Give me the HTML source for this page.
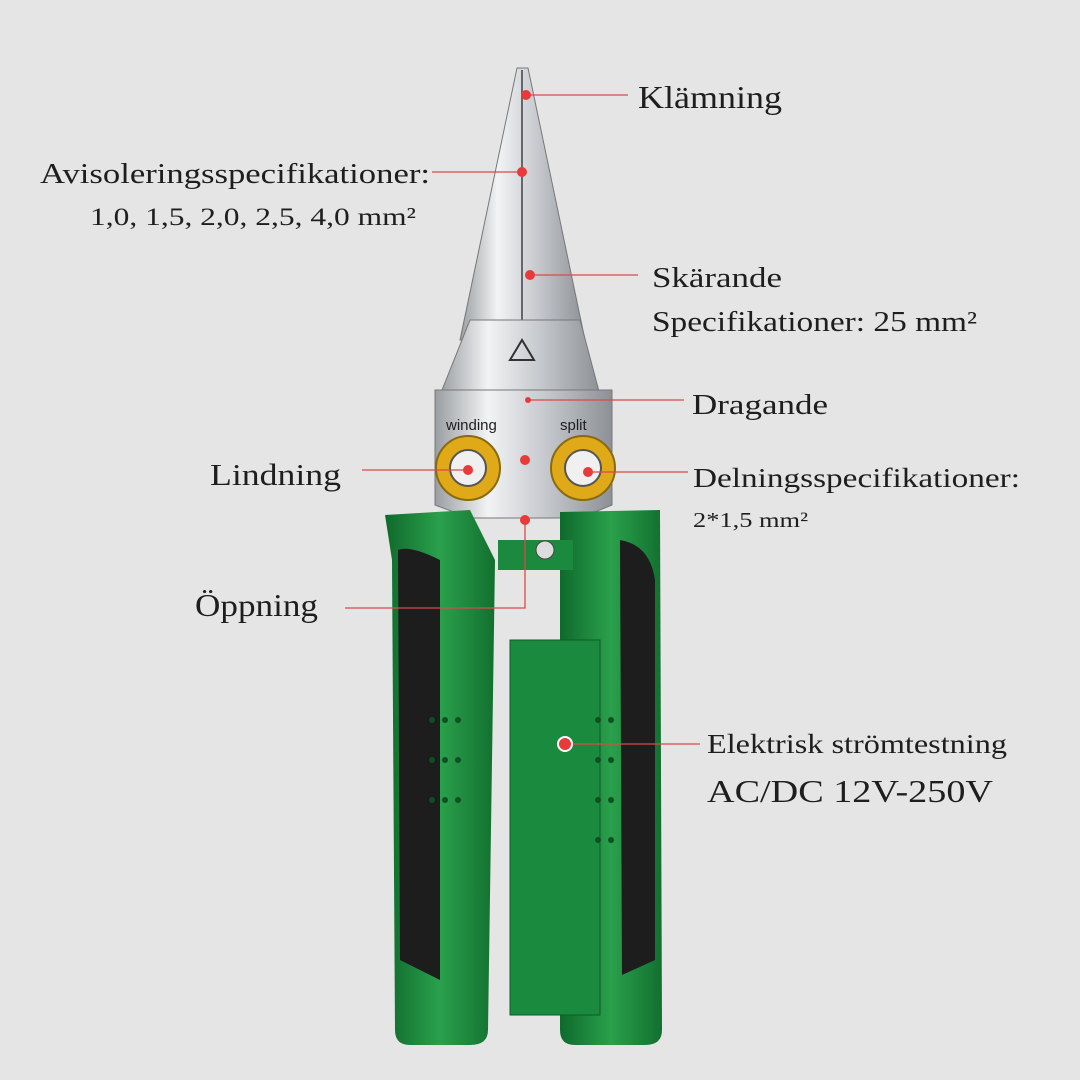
<!DOCTYPE html>
<html><head><meta charset="utf-8"><style>
html,body{margin:0;padding:0;background:#e5e5e5;}
svg{display:block}
text{font-family:"Liberation Serif",serif;fill:#1e1e1e}
</style></head><body>
<svg width="1080" height="1080" viewBox="0 0 1080 1080" xmlns="http://www.w3.org/2000/svg">
<defs>
<linearGradient id="steel" x1="0" x2="1">
<stop offset="0" stop-color="#9a9ea2"/><stop offset="0.3" stop-color="#f2f3f4"/><stop offset="0.6" stop-color="#c9ccd0"/><stop offset="1" stop-color="#8d9196"/>
</linearGradient>
<linearGradient id="green" x1="0" x2="1">
<stop offset="0" stop-color="#0f6a2c"/><stop offset="0.5" stop-color="#2aa04c"/><stop offset="1" stop-color="#12702f"/>
</linearGradient>
</defs>
<rect width="1080" height="1080" fill="#e5e5e5"/>
<path d="M517,68 L528,68 L585,340 L460,340 Z" fill="url(#steel)" stroke="#777" stroke-width="1"/>
<path d="M522,70 L522,340" stroke="#666" stroke-width="2"/>
<path d="M470,320 L580,320 L600,395 L440,395 Z" fill="url(#steel)" stroke="#777"/>
<path d="M435,390 L612,390 L612,505 L580,518 L470,518 L435,505 Z" fill="url(#steel)" stroke="#777"/>
<text x="446" y="430" font-size="15" style="font-family:'Liberation Sans',sans-serif">winding</text>
<text x="560" y="430" font-size="15" style="font-family:'Liberation Sans',sans-serif">split</text>
<circle cx="468" cy="468" r="32" fill="#e0a918" stroke="#8a6a10" stroke-width="2"/>
<circle cx="468" cy="468" r="18" fill="#f0f0f0" stroke="#555" stroke-width="2"/>
<circle cx="583" cy="468" r="32" fill="#e0a918" stroke="#8a6a10" stroke-width="2"/>
<circle cx="583" cy="468" r="18" fill="#f0f0f0" stroke="#555" stroke-width="2"/>
<path d="M510,360 l12,-20 l12,20 z" fill="none" stroke="#333" stroke-width="2"/>
<path d="M385,515 L470,510 L495,560 L488,1030 Q488,1045 470,1045 L410,1045 Q395,1045 395,1030 L392,560 Z" fill="url(#green)"/>
<path d="M398,550 Q410,545 440,560 L440,980 L400,960 Z" fill="#1d1d1d"/>
<path d="M560,512 L660,510 L662,1030 Q662,1045 645,1045 L575,1045 Q560,1045 560,1030 Z" fill="url(#green)"/>
<path d="M620,540 Q650,545 655,580 L655,960 L622,975 Z" fill="#1d1d1d"/>
<rect x="510" y="640" width="90" height="375" fill="#1a8a3e" stroke="#0e5a26"/>
<rect x="498" y="540" width="75" height="30" fill="#1c8a3e"/>
<circle cx="545" cy="550" r="9" fill="#ddd" stroke="#444"/>
<g fill="#0c4f20">
<circle cx="432" cy="720" r="3"/><circle cx="445" cy="720" r="3"/><circle cx="458" cy="720" r="3"/>
<circle cx="432" cy="760" r="3"/><circle cx="445" cy="760" r="3"/><circle cx="458" cy="760" r="3"/>
<circle cx="432" cy="800" r="3"/><circle cx="445" cy="800" r="3"/><circle cx="458" cy="800" r="3"/>
<circle cx="598" cy="720" r="3"/><circle cx="611" cy="720" r="3"/><circle cx="598" cy="760" r="3"/><circle cx="611" cy="760" r="3"/>
<circle cx="598" cy="800" r="3"/><circle cx="611" cy="800" r="3"/><circle cx="598" cy="840" r="3"/><circle cx="611" cy="840" r="3"/>
</g>
<g stroke="#d94a4a" stroke-width="1.3" fill="none">
<path d="M526,95 H628"/><path d="M432,172 H522"/><path d="M530,275 H638"/>
<path d="M530,400 H684"/><path d="M362,470 H468"/><path d="M588,472 H688"/>
<path d="M345,608 H525 V518"/><path d="M565,744 H700"/>
</g>
<g fill="#e83a3a">
<circle cx="526" cy="95" r="5"/><circle cx="522" cy="172" r="5"/><circle cx="530" cy="275" r="5"/>
<circle cx="528" cy="400" r="3"/><circle cx="468" cy="470" r="5"/><circle cx="588" cy="472" r="5"/>
<circle cx="525" cy="460" r="5"/><circle cx="525" cy="520" r="5"/><circle cx="565" cy="744" r="7" stroke="#fff" stroke-width="2"/>
</g>
<text x="638" y="108" font-size="32" textLength="144" lengthAdjust="spacingAndGlyphs">Klämning</text>
<text x="40" y="183" font-size="29" textLength="390" lengthAdjust="spacingAndGlyphs">Avisoleringsspecifikationer:</text>
<text x="90" y="225" font-size="25" textLength="326" lengthAdjust="spacingAndGlyphs">1,0, 1,5, 2,0, 2,5, 4,0 mm²</text>
<text x="652" y="287" font-size="29" textLength="130" lengthAdjust="spacingAndGlyphs">Skärande</text>
<text x="652" y="331" font-size="29" textLength="325" lengthAdjust="spacingAndGlyphs">Specifikationer: 25 mm²</text>
<text x="692" y="414" font-size="29" textLength="136" lengthAdjust="spacingAndGlyphs">Dragande</text>
<text x="210" y="485" font-size="31" textLength="131" lengthAdjust="spacingAndGlyphs">Lindning</text>
<text x="693" y="487" font-size="27" textLength="327" lengthAdjust="spacingAndGlyphs">Delningsspecifikationer:</text>
<text x="693" y="527" font-size="21" textLength="115" lengthAdjust="spacingAndGlyphs">2*1,5 mm²</text>
<text x="195" y="616" font-size="32" textLength="123" lengthAdjust="spacingAndGlyphs">Öppning</text>
<text x="707" y="753" font-size="27" textLength="300" lengthAdjust="spacingAndGlyphs">Elektrisk strömtestning</text>
<text x="707" y="802" font-size="32" textLength="286" lengthAdjust="spacingAndGlyphs">AC/DC 12V-250V</text>
</svg>
</body></html>
